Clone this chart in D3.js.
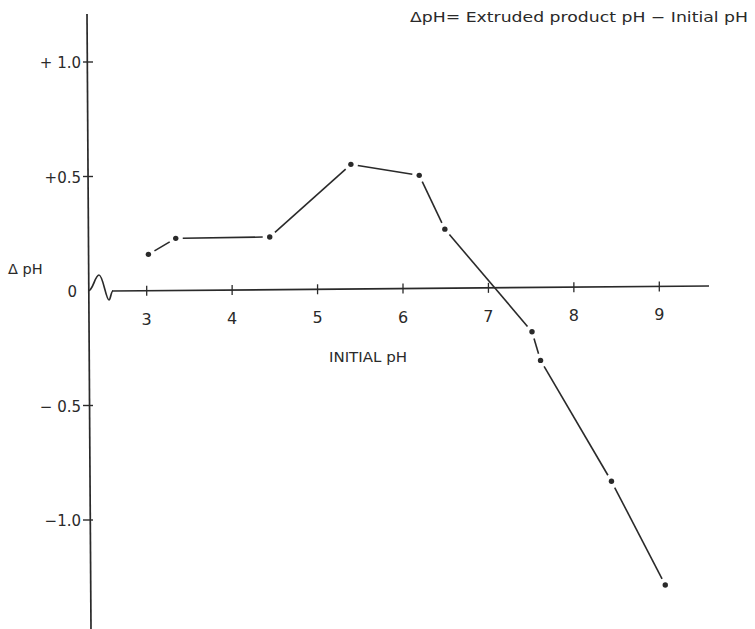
<!DOCTYPE html>
<html>
<head>
<meta charset="utf-8">
<script src="https://cdn.jsdelivr.net/npm/d3@7"></script>
<style>
  html, body { margin: 0; padding: 0; background: #ffffff; }
  svg { display: block; }
  text { font-family: "DejaVu Sans", "Liberation Sans", sans-serif; fill: #2a2a2a; }
</style>
</head>
<body>
<svg id="chart" width="755" height="629"></svg>
<script>
// Change in pH after extrusion versus initial pH
const initialPH = [3.02, 3.34, 4.44, 5.39, 6.19, 6.49, 7.51, 7.61, 8.44, 9.07];
const deltaPH   = [0.16, 0.23, 0.236, 0.553, 0.505, 0.27, -0.178, -0.303, -0.831, -1.284];

const xTicks = [3, 4, 5, 6, 7, 8, 9];
const yTicks = [1.0, 0.5, 0, -0.5, -1.0];
const yTickLabels = ["+ 1.0", "+0.5", "0", "\u2212 0.5", "\u22121.0"];

const svg = d3.select("#chart");
const ink = "#2a2a2a";

// Scales: the x axis starts at the y axis with a break symbol before pH 3
const x = d3.scaleLinear().domain([3, 9]).range([146.7, 659.3]);
const y = d3.scaleLinear().domain([0, 1]).range([291, 62]);
const x0 = 88;          // y-axis position
const xEnd = 709;       // right end of x axis
const yTop = y.invert(14), yBottom = y.invert(629);

const g = svg.append("g");

// Y axis line
g.append("line")
  .attr("x1", x0 - 1).attr("x2", x0 + 3)
  .attr("y1", y(yTop)).attr("y2", y(yBottom))
  .attr("stroke", ink).attr("stroke-width", 1.7);

// Y ticks and labels
yTicks.forEach((t, i) => {
  if (t === 0) return;
  g.append("line")
    .attr("x1", x0 - 5).attr("x2", x0 + 5)
    .attr("y1", y(t)).attr("y2", y(t))
    .attr("stroke", ink).attr("stroke-width", 1.4);
});
yTicks.forEach((t, i) => {
  g.append("text")
    .attr("x", t === 0 ? 77 : x0 - 7)
    .attr("y", y(t) + 6)
    .attr("text-anchor", "end")
    .attr("font-size", 15)
    .text(yTickLabels[i]);
});

// X axis with break symbol near the origin
const ax = y(0);
const breakPath = d3.path();
breakPath.moveTo(x0, ax);
breakPath.bezierCurveTo(x0 + 5, ax, x0 + 7, ax - 16, x0 + 11, ax - 16);
breakPath.bezierCurveTo(x0 + 15, ax - 16, x0 + 18, ax + 9, x0 + 21, ax + 9);
breakPath.bezierCurveTo(x0 + 22.5, ax + 9, x0 + 23, ax, x0 + 25, ax);
g.append("path")
  .attr("d", breakPath.toString())
  .attr("fill", "none").attr("stroke", ink).attr("stroke-width", 1.7);

g.append("line")
  .attr("x1", x0 + 24).attr("x2", xEnd)
  .attr("y1", ax).attr("y2", ax - 5)
  .attr("stroke", ink).attr("stroke-width", 1.7);

const axisY = xv => ax - 5 * (x(xv) - (x0 + 24)) / (xEnd - (x0 + 24));

xTicks.forEach(t => {
  const yy = axisY(t);
  g.append("line")
    .attr("x1", x(t)).attr("x2", x(t))
    .attr("y1", yy - 5).attr("y2", yy + 5)
    .attr("stroke", ink).attr("stroke-width", 1.3);
  g.append("text")
    .attr("x", x(t))
    .attr("y", yy + 34)
    .attr("text-anchor", "middle")
    .attr("font-size", 16)
    .text(t);
});

// Axis titles
g.append("text")
  .attr("x", 368).attr("y", 362)
  .attr("text-anchor", "middle")
  .attr("font-size", 14)
  .attr("textLength", 78)
  .attr("lengthAdjust", "spacingAndGlyphs")
  .text("INITIAL  pH");

g.append("text")
  .attr("x", 8).attr("y", 274)
  .attr("font-size", 14.5)
  .text("\u0394 pH");

g.append("text")
  .attr("x", 410).attr("y", 22)
  .attr("font-size", 14)
  .attr("textLength", 338)
  .attr("lengthAdjust", "spacingAndGlyphs")
  .text("\u0394pH=  Extruded product  pH \u2212 Initial pH");

// Data: line segments with small gaps at each point, then the points
const pts = initialPH.map((v, i) => [x(v), y(deltaPH[i])]);
const gap = 7;
for (let i = 0; i < pts.length - 1; i++) {
  const [ax1, ay1] = pts[i], [bx1, by1] = pts[i + 1];
  const dx = bx1 - ax1, dy = by1 - ay1;
  const len = Math.hypot(dx, dy);
  const ux = dx / len, uy = dy / len;
  g.append("line")
    .attr("x1", ax1 + ux * gap).attr("y1", ay1 + uy * gap)
    .attr("x2", bx1 - ux * gap).attr("y2", by1 - uy * gap)
    .attr("stroke", ink).attr("stroke-width", 1.6);
}

g.selectAll("circle.pt")
  .data(pts)
  .enter().append("circle")
  .attr("class", "pt")
  .attr("cx", d => d[0]).attr("cy", d => d[1])
  .attr("r", 2.7)
  .attr("fill", ink);
</script>
</body>
</html>
